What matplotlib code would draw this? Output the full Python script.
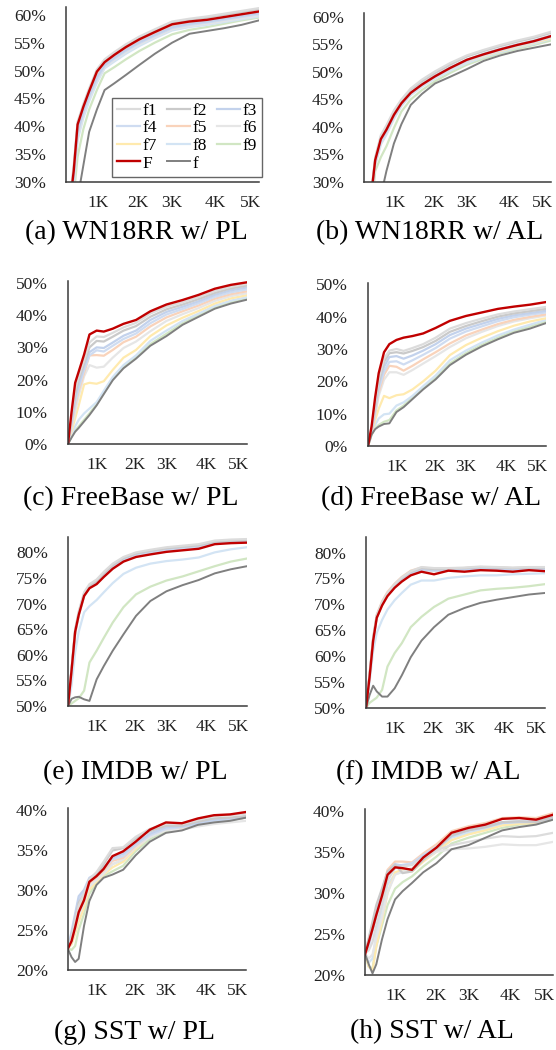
import matplotlib
matplotlib.use('Agg')
import matplotlib.pyplot as plt

plt.rcParams['font.family'] = ['Liberation Serif', 'DejaVu Serif']

# position along the x axis (percent of the axis width)
steps = [0, 2, 4, 6, 9, 12, 16, 20, 25, 31, 38, 46, 55, 64, 73, 82, 91, 100]
tick_pos = [16.5, 37.5, 55, 77.5, 95.5]
tick_labels = ['1K', '2K', '3K', '4K', '5K']

names = ['f1', 'f2', 'f3', 'f4', 'f5', 'f6', 'f7', 'f8', 'f9']
colors = ['#dcdcdc', '#cacaca', '#c3d2ec', '#cfdcf1', '#f9d3bb',
          '#e6e6e6', '#ffeaae', '#d3e4f4', '#d1e6c3']

# (a) WN18RR w/ PL
wn_pl_F = [20, 26, 32, 40.3, 43.5, 46.3, 49.8, 51.5, 52.8, 54.2, 55.6, 56.9, 58.3, 58.8, 59.1, 59.6, 60.1, 60.6]
wn_pl_f = [15, 19, 23, 27, 33, 39, 43, 46.5, 47.7, 49.2, 51, 53, 55, 56.6, 57.1, 57.6, 58.2, 59.0]
wn_pl_fi = [
    [21, 27, 33, 40.8, 44, 46.8, 50.2, 52, 53.3, 54.7, 56.1, 57.4, 58.8, 59.3, 59.7, 60.2, 60.7, 61.2],
    [20.5, 26.5, 32.5, 40.5, 43.7, 46.5, 50, 51.8, 53.1, 54.5, 55.9, 57.2, 58.6, 59.1, 59.5, 60, 60.5, 61],
    [19, 25, 31, 39, 42.8, 45.6, 48.8, 51, 52.3, 53.7, 55.1, 56.4, 57.8, 58.4, 58.8, 59.3, 59.8, 60.3],
    [18.5, 24.5, 30.5, 38.5, 42.3, 45.2, 48.4, 50.8, 52.1, 53.5, 54.9, 56.2, 57.6, 58.2, 58.6, 59.1, 59.6, 60.1],
    [19, 25, 31, 39.3, 43, 45.8, 49.2, 51.1, 52.5, 54, 55.3, 56.6, 58, 58.6, 58.9, 59.4, 59.9, 60.4],
    [18, 24, 30, 38, 42, 45, 48.2, 50.6, 51.9, 53.3, 54.7, 56, 57.4, 58, 58.4, 58.9, 59.4, 59.9],
    [18.5, 24.5, 30.5, 38.8, 42.6, 45.5, 48.8, 50.9, 52.2, 53.7, 55.1, 56.4, 57.8, 58.4, 58.7, 59.2, 59.7, 60.2],
    [17.5, 23.5, 29.5, 37.5, 41.5, 44.5, 47.8, 50.4, 51.6, 53, 54.4, 55.8, 57.2, 57.8, 58.2, 58.7, 59.2, 59.7],
    [16.5, 22, 27.5, 34.5, 39.5, 43, 46.5, 49.5, 50.6, 52, 53.5, 55, 56.5, 57.3, 57.8, 58.4, 59, 59.5],
]

# (b) WN18RR w/ AL
wn_al_F = [20, 24, 28, 34, 37.8, 39.5, 42.2, 44.3, 46.2, 47.7, 49.2, 50.7, 52.2, 53.2, 54.1, 54.9, 55.6, 56.5]
wn_al_f = [10, 14, 18, 22, 27.5, 32, 37, 40.5, 44, 46, 47.9, 49.1, 50.5, 52, 53, 53.8, 54.4, 55]
wn_al_fi = [
    [20.5, 24.5, 28.5, 34.5, 38.5, 40.3, 43, 45, 47, 48.6, 50.1, 51.6, 53, 54, 54.9, 55.7, 56.4, 57.3],
    [20.3, 24.3, 28.3, 34.3, 38.2, 40, 42.7, 44.8, 46.8, 48.3, 49.8, 51.3, 52.8, 53.8, 54.7, 55.5, 56.2, 57.1],
    [20, 24, 28, 34, 37.6, 39.4, 42.1, 44.3, 46.3, 47.8, 49.3, 50.8, 52.2, 53.3, 54.2, 55, 55.7, 56.6],
    [19.5, 23.5, 27.5, 33.5, 37.2, 39, 41.8, 44, 46, 47.6, 49.1, 50.6, 52, 53.1, 54, 54.8, 55.5, 56.4],
    [19.8, 23.8, 27.8, 33.8, 37.5, 39.3, 42, 44.2, 46.2, 47.7, 49.2, 50.7, 52.1, 53.2, 54.1, 54.9, 55.6, 56.5],
    [19.5, 23.5, 27.5, 33.3, 37, 38.8, 41.6, 43.9, 45.9, 47.5, 49, 50.5, 51.9, 53, 53.9, 54.7, 55.4, 56.3],
    [19.5, 23.5, 27.5, 33.5, 37.2, 39, 41.9, 44.2, 46.2, 47.8, 49.3, 50.6, 51.9, 52.9, 53.8, 54.6, 55.3, 56.1],
    [19, 23, 27, 33, 36.8, 38.6, 41.5, 43.8, 45.8, 47.3, 48.8, 50.2, 51.6, 52.7, 53.6, 54.4, 55.1, 56],
    [17, 21, 25, 32, 34.5, 36.5, 39.8, 42.8, 45, 46.7, 48.3, 49.8, 51.3, 52.4, 53.4, 54.2, 54.9, 55.7],
]

# (c) FreeBase w/ PL
fb_pl_F = [0, 10, 19, 22.5, 27.8, 34, 35.2, 34.9, 35.8, 37.3, 38.5, 41.2, 43.3, 44.7, 46.3, 48.2, 49.4, 50.2]
fb_pl_f = [0, 2, 3.8, 5, 7, 9, 12, 15.5, 19.8, 23.5, 26.5, 30.5, 33.5, 37, 39.5, 42, 43.6, 44.8]
fb_pl_fi = [
    [0, 9, 17, 21, 26, 31.5, 33.4, 33.2, 34.5, 36.2, 37.6, 40.5, 42.6, 44, 45.6, 47.5, 48.8, 49.7],
    [0, 8, 15.5, 20, 25, 30, 32, 31.8, 33.3, 35.2, 36.6, 39.5, 41.8, 43.3, 45, 46.9, 48.3, 49.2],
    [0, 7, 14, 18.5, 24, 28.5, 30, 29.8, 31.5, 33.6, 35.2, 38.5, 41, 42.6, 44.3, 46.3, 47.7, 48.6],
    [0, 6.5, 13, 17.5, 23, 27.5, 29.1, 28.7, 30.5, 32.6, 34.3, 37.5, 40.2, 41.9, 43.7, 45.7, 47.1, 48],
    [0, 6, 12, 16.5, 22, 27.5, 27.6, 27.4, 29.2, 31.6, 33.3, 36.5, 39.3, 41.2, 43, 45.1, 46.5, 47.4],
    [0, 5, 10, 15, 21, 24.5, 23.7, 24, 26.8, 29.8, 31.8, 35, 38.2, 40.3, 42.2, 44.4, 45.9, 46.8],
    [0, 4, 8, 12, 18.5, 19, 18.7, 19.5, 23, 26.8, 29.2, 33.5, 36.8, 39.2, 41.3, 43.6, 45.2, 46.2],
    [0, 3, 5.5, 7.5, 9.5, 11, 13, 16.5, 20.8, 24.5, 27.5, 32, 35.2, 38.2, 40.5, 42.9, 44.5, 45.6],
    [0, 2.3, 4.2, 5.5, 7.5, 9.5, 12.3, 15.8, 20.2, 24, 27, 31, 34.2, 37.5, 40, 42.4, 44, 45.1],
]

# (d) FreeBase w/ AL
fb_al_F = [0, 6, 15, 22.5, 29, 31.5, 32.8, 33.5, 34, 34.8, 36.5, 38.7, 40.2, 41.3, 42.4, 43.1, 43.7, 44.5]
fb_al_f = [0, 3.5, 5.2, 6, 6.8, 7, 10.5, 12, 14.5, 17.5, 20.6, 25, 28.2, 30.8, 33, 35, 36.3, 38]
fb_al_fi = [
    [0, 5.5, 13.5, 20.5, 27, 29.5, 30, 29.4, 30.3, 31.5, 33.5, 36.3, 38, 39.4, 40.7, 41.6, 42.3, 43],
    [0, 5, 12.5, 19.5, 26, 28.7, 29, 28.6, 29.4, 30.6, 32.5, 35.3, 37.1, 38.6, 40, 41, 41.7, 42.4],
    [0, 4.5, 11.5, 18.5, 24.5, 27.5, 27.8, 27, 28, 29.5, 31.5, 34.3, 36.3, 37.8, 39.3, 40.4, 41.1, 41.8],
    [0, 4.5, 11, 17.5, 23, 26, 26.2, 25.2, 26.5, 28.2, 30.3, 33.2, 35.4, 37, 38.6, 39.8, 40.6, 41.3],
    [0, 4, 10, 16.5, 22, 24.8, 24.5, 23.3, 24.8, 26.8, 29, 31.7, 34.2, 36, 37.7, 39, 39.9, 40.7],
    [0, 4, 9.5, 15.5, 20.5, 22.8, 22.8, 22, 23.5, 25.5, 27.8, 30.6, 33.3, 35.3, 37.1, 38.5, 39.5, 40.3],
    [0, 3.5, 8, 11.5, 15.5, 14.8, 15.7, 16, 17.5, 20, 23.3, 28.1, 31.2, 33.5, 35.5, 37.2, 38.5, 39.5],
    [0, 3.5, 6.5, 8.5, 9.8, 10, 12.5, 13.5, 15.5, 18.5, 21.8, 26.5, 29.5, 32, 34.2, 36, 37.5, 39],
    [0, 3.5, 5.5, 6.5, 7.5, 8, 11, 12.5, 15, 18, 21.2, 25.5, 28.7, 31.3, 33.5, 35.5, 36.9, 38.5],
]

# (e) IMDB w/ PL
im_pl_F = [50, 57, 64.5, 67.8, 71.5, 73, 73.8, 75.2, 76.8, 78.2, 79.1, 79.6, 80.1, 80.4, 80.7, 81.6, 81.8, 81.9]
im_pl_f = [50, 51.4, 51.7, 51.8, 51.3, 51.0, 55.2, 57.8, 60.8, 64, 67.6, 70.5, 72.4, 73.6, 74.6, 75.9, 76.7, 77.3]
im_pl_fi = [
    [50, 57.5, 65, 68.5, 72.2, 73.8, 74.7, 76.2, 77.8, 79.1, 80, 80.5, 81, 81.3, 81.6, 82.3, 82.5, 82.6],
    [50, 57.3, 64.8, 68.2, 72, 73.5, 74.4, 75.9, 77.5, 78.9, 79.8, 80.3, 80.8, 81.1, 81.4, 82.1, 82.3, 82.4],
    [50, 57, 64.5, 68, 71.8, 73.4, 74.3, 75.8, 77.4, 78.8, 79.7, 80.2, 80.7, 81, 81.3, 82, 82.2, 82.3],
    [50, 56.8, 64.3, 67.8, 71.6, 73.2, 74.2, 75.6, 77.2, 78.6, 79.5, 80, 80.5, 80.8, 81.1, 81.9, 82.1, 82.2],
    [50, 57, 64.6, 68.1, 71.9, 73.5, 74.5, 75.9, 77.5, 78.8, 79.7, 80.2, 80.7, 81, 81.3, 82.1, 82.3, 82.4],
    [50, 56.5, 64, 67.6, 71.4, 73, 74, 75.5, 77.1, 78.5, 79.4, 79.9, 80.4, 80.7, 81, 81.8, 82, 82.1],
    [50, 56.7, 64.2, 67.7, 71.5, 73.1, 74.1, 75.6, 77.2, 78.6, 79.5, 80, 80.5, 80.8, 81.1, 81.9, 82.1, 82.2],
    [50, 54, 60.5, 64.5, 68.3, 69.5, 70.7, 72.2, 74, 75.8, 77, 77.8, 78.3, 78.6, 79, 80, 80.6, 81],
    [50, 50.5, 51, 51.5, 53, 58.5, 60.8, 63.3, 66.3, 69.3, 71.8, 73.3, 74.5, 75.3, 76.3, 77.3, 78.2, 78.8],
]

# (f) IMDB w/ AL
im_al_F = [50, 56, 63, 67.4, 69.8, 71.6, 73.2, 74.4, 75.6, 76.3, 75.8, 76.5, 76.3, 76.6, 76.5, 76.3, 76.6, 76.4]
im_al_f = [50, 52.5, 54.3, 53.2, 52.2, 52.2, 53.8, 56.3, 59.8, 63, 65.6, 68, 69.3, 70.3, 70.9, 71.4, 71.9, 72.2]
im_al_fi = [
    [50, 56.5, 63.5, 67.9, 70.4, 72.2, 73.9, 75.2, 76.4, 77.2, 77, 77, 77.1, 77.3, 77.2, 77.1, 77.2, 77.2],
    [50, 56.4, 63.4, 67.8, 70.3, 72.1, 73.8, 75.1, 76.3, 77, 76.8, 76.9, 77, 77.2, 77.1, 77, 77.1, 77.1],
    [50, 56.2, 63.2, 67.6, 70.1, 71.9, 73.6, 74.9, 76.1, 76.8, 76.6, 76.7, 76.8, 77, 76.9, 76.8, 76.9, 76.9],
    [50, 56.1, 63.1, 67.5, 70, 71.8, 73.5, 74.8, 76, 76.7, 76.5, 76.6, 76.7, 76.9, 76.8, 76.7, 76.8, 76.8],
    [50, 56.6, 63.6, 68, 70.6, 72.4, 74, 75.3, 76.5, 77.1, 76.9, 76.9, 77, 77.2, 77.1, 77, 77.1, 77],
    [50, 56, 63, 67.4, 69.9, 71.7, 73.4, 74.7, 75.9, 76.6, 76.4, 76.5, 76.6, 76.8, 76.7, 76.6, 76.7, 76.7],
    [50, 56.3, 63.3, 67.7, 70.3, 72.1, 73.7, 75, 76.2, 76.9, 76.7, 76.8, 76.9, 77.1, 77, 76.9, 77, 77],
    [50, 55, 61, 64.5, 67, 69, 70.8, 72.2, 73.8, 74.6, 74.6, 75.1, 75.4, 75.6, 75.6, 75.8, 75.9, 76],
    [50, 51, 51.5, 52, 53.5, 58, 60.6, 62.5, 65.6, 67.6, 69.5, 71.1, 71.9, 72.7, 73, 73.2, 73.5, 73.9],
]

# (g) SST w/ PL
sst_pl_F = [22.7, 23.6, 25.3, 27.2, 28.7, 31, 31.7, 32.6, 34.2, 34.8, 36, 37.5, 38.4, 38.3, 38.9, 39.3, 39.4, 39.7]
sst_pl_f = [22.6, 21.6, 21, 21.4, 25.5, 28.6, 30.6, 31.5, 31.9, 32.5, 34.3, 36, 37.1, 37.4, 38.1, 38.4, 38.6, 39]
sst_pl_fi = [
    [22.7, 24, 26, 28, 29.5, 31.3, 32.2, 33.5, 35.2, 35.3, 36.6, 37.6, 38.2, 38.2, 38.7, 39.2, 39.3, 39.5],
    [22.7, 24.2, 26.3, 28.4, 29.4, 31.2, 31.9, 33.2, 34.9, 35.2, 36.4, 37.3, 38, 38, 38.5, 38.9, 39, 39.2],
    [22.7, 24.8, 27, 29.2, 30, 31.5, 32, 32.8, 34, 34.5, 35.8, 37, 37.8, 37.9, 38.3, 38.7, 38.9, 39.1],
    [22.7, 24.5, 26.6, 28.8, 29.7, 31.2, 31.8, 32.6, 33.8, 34.2, 35.6, 36.8, 37.6, 37.8, 38.2, 38.6, 38.8, 39],
    [22.7, 23.8, 25.6, 27.5, 28.9, 30.8, 31.6, 32.4, 33.6, 34, 35.5, 36.9, 37.7, 37.8, 38.3, 38.7, 38.9, 39.1],
    [22.7, 23.5, 25, 26.8, 28.3, 30.4, 31.2, 32, 33.2, 33.8, 35.3, 36.6, 37.4, 37.5, 37.9, 38.2, 38.4, 38.6],
    [22.7, 23.2, 24.5, 26, 27.8, 30, 31, 31.9, 32.8, 33.5, 35.1, 36.7, 37.5, 37.7, 38.2, 38.6, 38.8, 39],
    [22.7, 24.2, 26.2, 28.3, 29.2, 30.8, 31.4, 32.2, 33.2, 33.7, 35.2, 36.6, 37.5, 37.7, 38.2, 38.6, 38.8, 39],
    [22.7, 22.5, 23, 25, 27, 29.5, 30.8, 31.7, 32.3, 33, 34.8, 36.3, 37.3, 37.5, 38.1, 38.5, 38.7, 39],
]

# (h) SST w/ AL
sst_al_F = [22.5, 24, 25.6, 27.3, 29.6, 32.2, 33.1, 33.0, 32.8, 34.3, 35.5, 37.3, 37.9, 38.3, 39, 39.1, 38.9, 39.5]
sst_al_f = [22.6, 21.3, 20.2, 21.3, 24.3, 26.8, 29.2, 30.2, 31.2, 32.5, 33.6, 35.3, 35.8, 36.7, 37.6, 38, 38.3, 38.9]
sst_al_fi = [
    [22.6, 23, 24, 26, 28.5, 31.5, 33, 33.2, 33.4, 34.3, 35.2, 35.8, 36.2, 36.6, 36.9, 36.8, 36.9, 37.3],
    [22.6, 24.5, 26.5, 28.5, 30.5, 32.6, 33.4, 32.4, 32.6, 34, 35.3, 37, 37.6, 38, 38.6, 38.7, 38.6, 39.2],
    [22.6, 24.2, 26, 27.8, 30, 32.5, 33.5, 33.3, 33.4, 34.5, 35.5, 36.9, 37.6, 38, 38.5, 38.6, 38.6, 39.1],
    [22.6, 23.5, 25.3, 27, 29.5, 32, 33.2, 33.4, 33.6, 34.6, 35.6, 37, 37.6, 38.1, 38.6, 38.7, 38.7, 39.2],
    [22.6, 24.3, 26.2, 28, 30.2, 32.8, 33.8, 33.8, 33.7, 34.8, 35.9, 37.5, 38.1, 38.5, 39.1, 39.2, 39.1, 39.7],
    [22.6, 22, 22.5, 24.5, 27, 30, 32.2, 32.6, 33, 34, 35, 35.3, 35.4, 35.6, 35.9, 35.8, 35.8, 36.2],
    [22.6, 21, 20.5, 23.5, 26.5, 30, 32.5, 32.8, 32.6, 33.8, 35, 36.4, 37.1, 37.6, 38.2, 38.4, 38.5, 39],
    [22.6, 21.5, 22, 25, 28, 31, 32.3, 32.5, 32.8, 34, 35, 36.7, 37.3, 37.8, 38.3, 38.5, 38.5, 39],
    [22.6, 21, 20.8, 23.5, 26, 28.5, 30.5, 31.3, 32, 33.2, 34.4, 36, 36.7, 37.3, 37.9, 38.3, 38.4, 38.9],
]

# layout in pixels: left, right, top, bottom of the plot area, then caption centre
W, H = 556, 1050
panels = [
    (wn_pl_F, wn_pl_f, wn_pl_fi, (30, 61.4), range(30, 61, 5), '(a) WN18RR w/ PL', (66, 259, 7, 182), (136, 233)),
    (wn_al_F, wn_al_f, wn_al_fi, (30, 60.7), range(30, 61, 5), '(b) WN18RR w/ AL', (364, 551, 13, 182), (430, 233)),
    (fb_pl_F, fb_pl_f, fb_pl_fi, (0, 50.6), range(0, 51, 10), '(c) FreeBase w/ PL', (68, 247, 281, 444), (131, 499)),
    (fb_al_F, fb_al_f, fb_al_fi, (0, 50.4), range(0, 51, 10), '(d) FreeBase w/ AL', (368, 546, 283, 446), (431, 499)),
    (im_pl_F, im_pl_f, im_pl_fi, (50, 83), range(50, 81, 5), '(e) IMDB w/ PL', (68, 247, 537, 706), (135, 773)),
    (im_al_F, im_al_f, im_al_fi, (50, 83), range(50, 81, 5), '(f) IMDB w/ AL', (366, 545, 537, 708), (428, 773)),
    (sst_pl_F, sst_pl_f, sst_pl_fi, (20, 40.2), range(20, 41, 5), '(g) SST w/ PL', (68, 246, 808, 970), (135, 1032)),
    (sst_al_F, sst_al_f, sst_al_fi, (20, 40.2), range(20, 41, 5), '(h) SST w/ AL', (365, 553, 809, 975), (432, 1032)),
]

fig = plt.figure(figsize=(W / 100, H / 100), dpi=100)

for k, (F, f, fi, ylim, yt, caption, (l, r, t, b), (cx, cy)) in enumerate(panels):
    ax = fig.add_axes([l / W, 1 - b / H, (r - l) / W, (b - t) / H])
    handles = {}
    for i in range(8, -1, -1):
        handles[names[i]], = ax.plot(steps, fi[i], color=colors[i], lw=1.6, label=names[i])
    handles['f'], = ax.plot(steps, f, color='#7f7f7f', lw=1.4, label='f')
    handles['F'], = ax.plot(steps, F, color='#c00000', lw=1.7, label='F')
    ax.set_xlim(0, 100)
    ax.set_ylim(*ylim)
    ax.set_yticks(list(yt))
    ax.set_yticklabels([f'{v}%' for v in yt])
    ax.set_xticks(tick_pos)
    ax.set_xticklabels(tick_labels)
    ax.tick_params(axis='both', length=0, labelsize=12.5, colors='#222222')
    ax.tick_params(axis='x', pad=9.5)
    ax.tick_params(axis='y', pad=14.5)
    for s in ['top', 'right']:
        ax.spines[s].set_visible(False)
    for s in ['left', 'bottom']:
        ax.spines[s].set_color('#3a3a3a')
        ax.spines[s].set_linewidth(1.1)
    fig.text(cx / W, 1 - cy / H, caption, ha='center', va='center', fontsize=20)

    if k == 0:
        order = ['f1', 'f4', 'f7', 'F', 'f2', 'f5', 'f8', 'f', 'f3', 'f6', 'f9']
        leg = ax.legend([handles[n] for n in order], order, ncol=3, loc='lower right',
                        bbox_to_anchor=(1.016, 0.03), borderaxespad=0, fontsize=12.5,
                        frameon=True, fancybox=False, edgecolor='#404040',
                        handlelength=1.3, handletextpad=0.15, columnspacing=0.6,
                        labelspacing=0.08, borderpad=0.3)
        leg.get_frame().set_linewidth(1.0)

fig.savefig('out.png', dpi=100)
